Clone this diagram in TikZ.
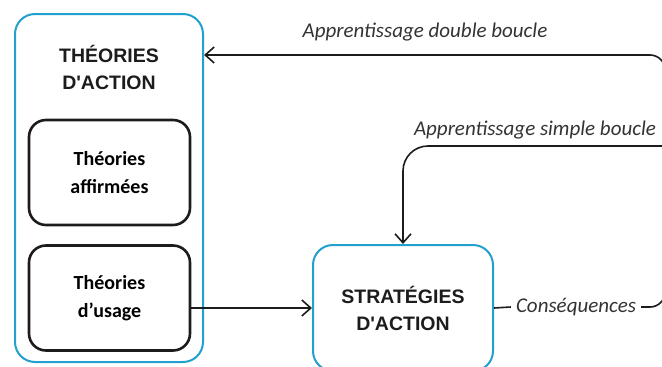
\documentclass[tikz,border=0pt]{standalone}
\usepackage{fontspec}
\usepackage{xcolor}
\usetikzlibrary{arrows.meta}
\newfontfamily\titrefont{Liberation Sans}
\newfontfamily\corpsfont{Carlito}
\definecolor{bleucadre}{RGB}{33,161,206}
\definecolor{encre}{RGB}{28,28,28}
\tikzset{
	cadre/.style={draw=bleucadre, line width=2pt, rounded corners=20pt},
	souscadre/.style={draw=encre, line width=2.6pt, rounded corners=17pt,
		minimum width=161pt, minimum height=105pt, align=center,
		font=\corpsfont\bfseries\fontsize{20}{28}\selectfont},
	titre/.style={align=center, text=encre,
		font=\titrefont\bfseries\fontsize{19.5}{27}\selectfont},
	etiquette/.style={text=encre!90, inner xsep=5pt, inner ysep=2pt,
		font=\corpsfont\itshape\fontsize{21}{24}\selectfont},
	lien/.style={draw=encre, line width=1.6pt},
	fleche/.style={lien, -{Straight Barb[length=9pt,width=16pt,line width=1.6pt]}},
}

\begin{document}
\begin{tikzpicture}[x=1pt,y=-1pt]
	%\draw[step=50,gray,very thin] (0,0) grid (662,367);
	\useasboundingbox (0,0) rectangle (662,367);
	\clip (0,0) rectangle (662,367);
	% les cadres
	\node[cadre, minimum width=188pt, minimum height=348pt] (theories) at (109,188) {};
	\node[titre] (titreth) at (109,67) {THÉORIES\\D'ACTION};
	\node[souscadre] (affirmees) at (109.5,172.5) {Théories\\affirmées};
	\node[souscadre] (usage) at (109.5,298) {Théories\\d’usage};
	\node[cadre, titre, minimum width=180pt, minimum height=126pt] (strategies) at (403,308) {STRATÉGIES\\D'ACTION};
	\node[etiquette] (consq) at (576,307) {Conséquences};
	% les boucles
	\coordinate (col) at (665,0);
	\coordinate (jonction) at (665,146);
	\draw[fleche] (usage.east |- strategies.west) -- (strategies.west);
	\draw[lien] (strategies.east) -- (consq.west);
	\draw[fleche, rounded corners=15pt] (consq.east) -- (col |- consq.east) -- (col |- 0,55) -- (theories.east |- 0,55);
	\draw[fleche, rounded corners=25pt] (jonction) -- (strategies.north |- jonction) -- (strategies.north);
	\node[etiquette, anchor=base] (double) at (425,37) {Apprentissage double boucle};
	\node[etiquette, anchor=base] (simple) at (535,135) {Apprentissage simple boucle};
\end{tikzpicture}
\end{document}
